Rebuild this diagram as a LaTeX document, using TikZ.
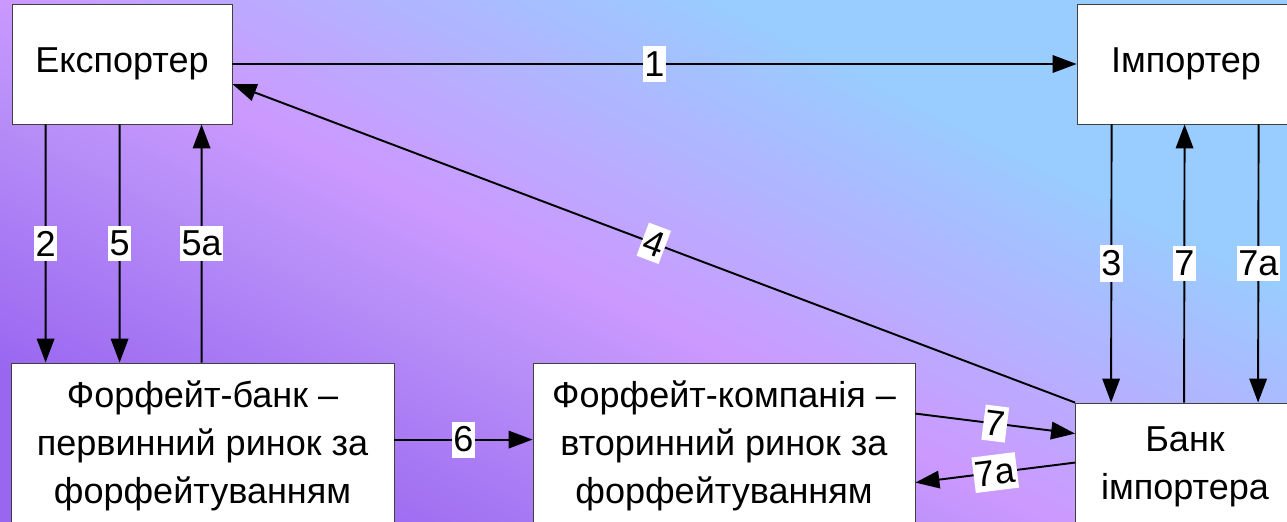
\documentclass[tikz,border=0pt]{standalone}
\usepackage{fontspec}
\setmainfont{Liberation Sans}
\usetikzlibrary{arrows.meta,calc}
\definecolor{bgLow}{HTML}{9966F0}
\definecolor{bgLilac}{HTML}{B990F8}
\definecolor{bgMid}{HTML}{CC99FF}
\definecolor{bgHigh}{HTML}{99CCFF}
\pgfdeclareverticalshading{bgshade}{100bp}{color(0bp)=(bgLow); color(25bp)=(bgLow); color(41bp)=(bgLilac); color(47bp)=(bgMid); color(67bp)=(bgHigh); color(100bp)=(bgHigh)}

\begin{document}
\begin{tikzpicture}[x=0.02cm, y=-0.02cm,
    party/.style={draw=black!75, line width=0.5pt, fill=white, align=center, font=\fontsize{20.5}{27.5}\selectfont, inner sep=0pt},
    arr/.style={-{Triangle[length=0.48cm, width=0.35cm]}, line width=1.1pt},
    lbl/.style={font=\fontsize{20.5}{24}\selectfont, fill=white, inner xsep=1pt, inner ysep=3pt}
]
\useasboundingbox (0,0) rectangle (1287,521);
\clip (0,0) rectangle (1287,521);
\shade[shading=bgshade, shading angle=-26.6] (0,0) rectangle (1287,521);

% participants
\node[party, minimum width=4.4cm, minimum height=2.4cm] (exp) at (122,64) {Експортер};
\node[party, minimum width=4.36cm, minimum height=2.4cm] (imp) at (1186,64) {Імпортер};
\node[party, minimum width=7.66cm, minimum height=3.32cm] (fb) at (202.5,446) {Форфейт-банк –\\первинний ринок за\\форфейтуванням};
\node[party, minimum width=7.64cm, minimum height=3.32cm] (fc) at (724,446) {Форфейт-компанія –\\вторинний ринок за\\форфейтуванням};
\node[party, minimum width=4.38cm, minimum height=2.56cm] (bi) at (1185,467) {Банк\\імпортера};

% flows
\draw[arr] (exp) -- node[lbl] {1} (imp);
\draw[arr] ($(exp.south west)+(34,0)$) -- node[lbl] {2} ($(fb.north west)+(35,0)$);
\draw[arr] ($(exp.south west)+(108,0)$) -- node[lbl] {5} ($(fb.north west)+(109,0)$);
\draw[arr] ($(fb.north west)+(191,0)$) -- node[lbl] {5a} ($(exp.south west)+(190,0)$);
\draw[arr] (bi.north west) -- node[lbl, sloped] {4} ($(exp.east)+(0,20)$);
\draw[arr] ($(imp.south west)+(35,0)$) -- node[lbl] {3} ($(bi.north west)+(36,0)$);
\draw[arr] ($(bi.north west)+(109,0)$) -- node[lbl] {7} ($(imp.south west)+(108,0)$);
\draw[arr] ($(imp.south west)+(182,0)$) -- node[lbl] {7a} ($(bi.north west)+(183,0)$);
\draw[arr] ($(fb.north east)+(0,77)$) -- node[lbl] {6} ($(fc.north west)+(0,77)$);
\draw[arr] ($(fc.north east)+(0,51)$) -- node[lbl, sloped] {7} ($(bi.north west)+(0,31)$);
\draw[arr] ($(bi.north west)+(0,60)$) -- node[lbl, sloped] {7a} ($(fc.north east)+(0,120)$);
\end{tikzpicture}
\end{document}
